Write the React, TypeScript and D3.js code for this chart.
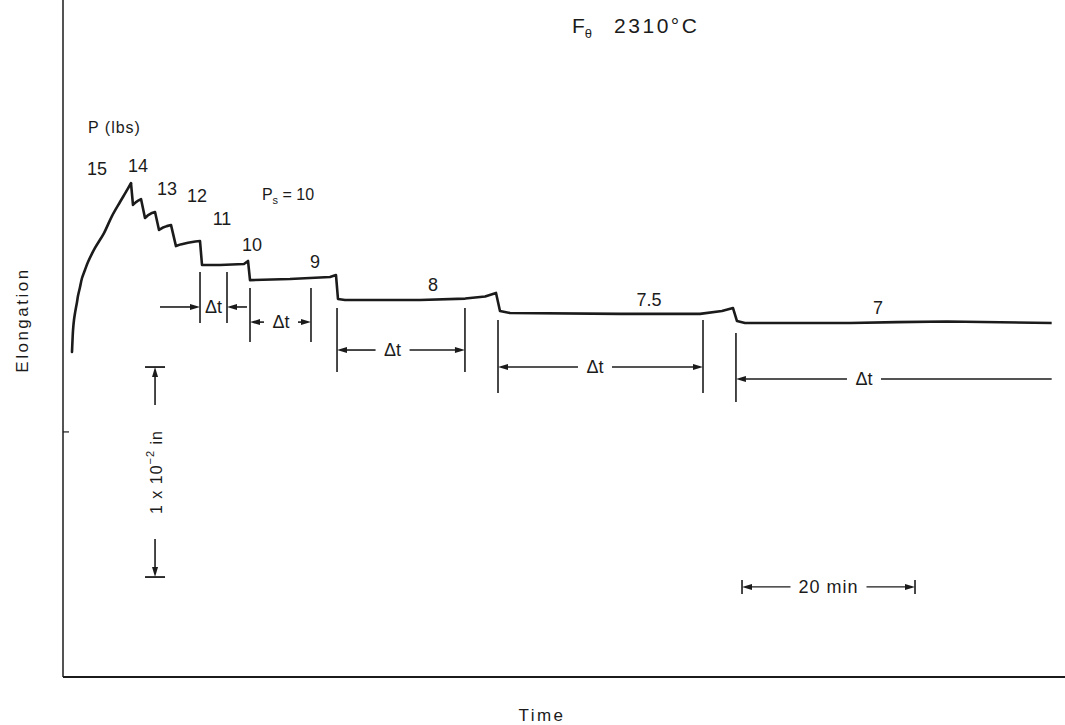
import * as d3 from "d3";

const W = 1065;
const H = 725;

// creep record: time in minutes, elongation in 10^-3 in
const curveTime = [
  1.04, 1.1, 1.16, 1.27, 1.39, 1.62, 1.73, 1.97, 2.2, 2.54, 2.89, 3.7, 4.74, 5.66, 6.59, 7.28, 7.86,
  8.09, 8.4, 8.75, 9.02, 9.48, 9.8, 10.2, 10.64, 11.1, 11.5, 12.0, 12.49, 13.06, 13.6, 14.45, 15.3, 15.84,
  16.07, 18.15, 20.92, 21.39, 21.62, 26.24, 30.87, 31.56, 31.79, 32.6, 41.27,
  46.5, 48.8, 50.06, 50.52, 51.68, 64.39, 73.64, 76.18, 77.46, 77.92, 78.84, 90.98,
  96.4, 102.2, 114.3,
];
const curveElong = [
  15.48, 16.05, 16.52, 17.0, 17.33, 17.86, 18.14, 18.57, 19.0, 19.38, 19.76, 20.43, 21.14, 21.95, 22.62, 23.1, 23.52,
  22.48, 22.6, 22.7, 22.76, 21.86, 21.98, 22.08, 22.14, 21.29, 21.39, 21.47, 21.52, 20.52, 20.6, 20.68, 20.74, 20.76,
  19.62, 19.62, 19.67, 19.81, 18.9, 18.95, 19.05, 19.14, 18.0, 17.95, 17.95,
  18.02, 18.12, 18.29, 17.43, 17.33, 17.29, 17.29, 17.43, 17.57, 16.95, 16.86, 16.86,
  16.9, 16.93, 16.86,
];
// first loading (15 lbs) ends at the peak, index 16
const loadingEnd = 16;

// load steps (lbs) and where their labels sit
const loadLabels = ["15", "14", "13", "12", "11", "10", "9", "8", "7.5", "7"];
const loadLabelTime = [3.93, 8.67, 12.02, 15.49, 18.38, 21.85, 29.13, 42.77, 67.75, 94.22];
const loadLabelElong = [24.19, 24.33, 23.24, 22.9, 21.81, 20.57, 19.76, 18.67, 17.95, 17.57];

// Δt intervals
const dtStart = [15.84, 21.62, 31.68, 50.29, 77.8];
const dtEnd = [18.96, 28.67, 46.47, 73.99, 114.3];
const dtTop = [19.29, 18.52, 17.57, 17.0, 16.38];
const dtBottom = [16.86, 15.95, 14.52, 13.52, 13.1];
const dtArrow = [17.62, 16.9, 15.57, 14.76, 14.19];
const dtLabelTime = [17.4, 25.2, 38.1, 61.5, 92.6];

// scale bars
const elongBar = { time: 10.64, from: 4.76, to: 14.76 }; // 10 x 10^-3 in
const timeBar = { elong: 4.29, from: 78.5, to: 98.5 }; // 20 min

const x = d3.scaleLinear().domain([0, 115.84]).range([63, 1065]);
const y = d3.scaleLinear().domain([0, 32.238]).range([677, 0]);

const INK = "#1b1b1b";
const FONT = "'Liberation Sans', Arial, sans-serif";

const Arrow = ({ x1, y1, x2, y2, w = 1.6 }: { x1: number; y1: number; x2: number; y2: number; w?: number }) => {
  const a = Math.atan2(y2 - y1, x2 - x1);
  const L = 10;
  const hw = 3;
  const bx = x2 - L * Math.cos(a);
  const by = y2 - L * Math.sin(a);
  const pts = [
    [x2, y2],
    [bx + hw * Math.sin(a), by - hw * Math.cos(a)],
    [bx - hw * Math.sin(a), by + hw * Math.cos(a)],
  ];
  return (
    <g>
      <line x1={x1} y1={y1} x2={bx} y2={by} stroke={INK} strokeWidth={w} />
      <polygon points={pts.map((p) => p.join(",")).join(" ")} fill={INK} />
    </g>
  );
};

export default function App() {
  const idx = curveTime.map((_, i) => i);
  const loading = d3
    .line<number>()
    .x((i) => x(curveTime[i]))
    .y((i) => y(curveElong[i]))
    .curve(d3.curveCatmullRom.alpha(0.5));
  const creep = d3
    .line<number>()
    .x((i) => x(curveTime[i]))
    .y((i) => y(curveElong[i]));

  const gap = 17;

  return (
    <svg
      width={W}
      height={H}
      style={{ position: "absolute", left: 0, top: 0, background: "#fff" }}
      fontFamily={FONT}
    >
      {/* axes */}
      <line x1={x(0)} y1={0} x2={x(0)} y2={y(0)} stroke={INK} strokeWidth={1.5} />
      <line x1={x(0)} y1={y(0)} x2={W} y2={y(0)} stroke={INK} strokeWidth={2} />
      <line x1={x(0)} y1={y(11.67)} x2={x(0) + 6} y2={y(11.67)} stroke={INK} strokeWidth={1.2} />

      <text
        transform={`translate(22,${y(17.0)}) rotate(-90)`}
        textAnchor="middle"
        dominantBaseline="central"
        fontSize={17}
        letterSpacing={2.5}
        fill={INK}
      >
        Elongation
      </text>
      <text x={542} y={721} textAnchor="middle" fontSize={17} letterSpacing={2.5} fill={INK}>
        Time
      </text>

      {/* title */}
      <text x={x(58.85)} y={y(30.67)} fontSize={21} fill={INK}>
        F
        <tspan fontSize={13} dy={5}>θ</tspan>
        <tspan dx={22} dy={-5} letterSpacing={2.5}>2310°C</tspan>
      </text>

      <text x={x(2.89)} y={y(25.9)} fontSize={16} letterSpacing={1} fill={INK}>
        P (lbs)
      </text>
      <text x={x(23.0)} y={y(22.7)} fontSize={16} fill={INK}>
        P<tspan fontSize={11} dy={4}>s</tspan>
        <tspan dy={-4}> = 10</tspan>
      </text>

      {/* creep curve */}
      <path
        d={loading(idx.slice(0, loadingEnd + 1)) ?? ""}
        fill="none"
        stroke={INK}
        strokeWidth={2.6}
        strokeLinecap="round"
      />
      <path
        d={creep(idx.slice(loadingEnd)) ?? ""}
        fill="none"
        stroke={INK}
        strokeWidth={2.6}
        strokeLinejoin="round"
      />

      {loadLabels.map((l, i) => (
        <text
          key={l}
          x={x(loadLabelTime[i])}
          y={y(loadLabelElong[i])}
          textAnchor="middle"
          dominantBaseline="central"
          fontSize={18}
          fill={INK}
        >
          {l}
        </text>
      ))}

      {/* Δt intervals */}
      {dtStart.map((s, i) => {
        const xs = x(s);
        const xe = x(dtEnd[i]);
        const ya = y(dtArrow[i]);
        const xc = x(dtLabelTime[i]);
        const last = i === dtStart.length - 1;
        return (
          <g key={i}>
            <line x1={xs} y1={y(dtTop[i])} x2={xs} y2={y(dtBottom[i])} stroke={INK} strokeWidth={1.6} />
            {!last && (
              <line x1={xe} y1={y(dtTop[i])} x2={xe} y2={y(dtBottom[i])} stroke={INK} strokeWidth={1.6} />
            )}
            {i === 0 ? (
              <>
                <Arrow x1={x(11.21)} y1={ya} x2={xs} y2={ya} />
                <Arrow x1={x(21.27)} y1={ya} x2={xe} y2={ya} />
              </>
            ) : (
              <>
                <Arrow x1={xc - gap} y1={ya} x2={xs} y2={ya} />
                {last ? (
                  <line x1={xc + gap} y1={ya} x2={xe} y2={ya} stroke={INK} strokeWidth={1.6} />
                ) : (
                  <Arrow x1={xc + gap} y1={ya} x2={xe} y2={ya} />
                )}
              </>
            )}
            <text x={xc} y={ya} textAnchor="middle" dominantBaseline="central" fontSize={18} fill={INK}>
              Δt
            </text>
          </g>
        );
      })}

      {/* elongation scale bar */}
      {(() => {
        const bx = x(elongBar.time);
        const top = y(elongBar.to);
        const bot = y(elongBar.from);
        const mid = (top + bot) / 2;
        return (
          <g>
            <line x1={bx - 10} y1={top} x2={bx + 10} y2={top} stroke={INK} strokeWidth={1.8} />
            <line x1={bx - 10} y1={bot} x2={bx + 10} y2={bot} stroke={INK} strokeWidth={1.8} />
            <Arrow x1={bx} y1={top + 38} x2={bx} y2={top} />
            <Arrow x1={bx} y1={bot - 38} x2={bx} y2={bot} />
            <text
              transform={`translate(${bx + 1},${mid}) rotate(-90)`}
              textAnchor="middle"
              dominantBaseline="central"
              fontSize={16}
              letterSpacing={1}
              fill={INK}
            >
              1 x 10<tspan fontSize={11} dy={-6}>−2</tspan>
              <tspan dy={6}> in</tspan>
            </text>
          </g>
        );
      })()}

      {/* time scale bar */}
      {(() => {
        const ty = y(timeBar.elong);
        const l = x(timeBar.from);
        const r = x(timeBar.to);
        const c = (l + r) / 2;
        return (
          <g>
            <line x1={l} y1={ty - 7} x2={l} y2={ty + 7} stroke={INK} strokeWidth={1.6} />
            <line x1={r} y1={ty - 7} x2={r} y2={ty + 7} stroke={INK} strokeWidth={1.6} />
            <Arrow x1={c - 38} y1={ty} x2={l} y2={ty} w={1.4} />
            <Arrow x1={c + 38} y1={ty} x2={r} y2={ty} w={1.4} />
            <text x={c} y={ty} textAnchor="middle" dominantBaseline="central" fontSize={18} letterSpacing={1} fill={INK}>
              20 min
            </text>
          </g>
        );
      })()}
    </svg>
  );
}
